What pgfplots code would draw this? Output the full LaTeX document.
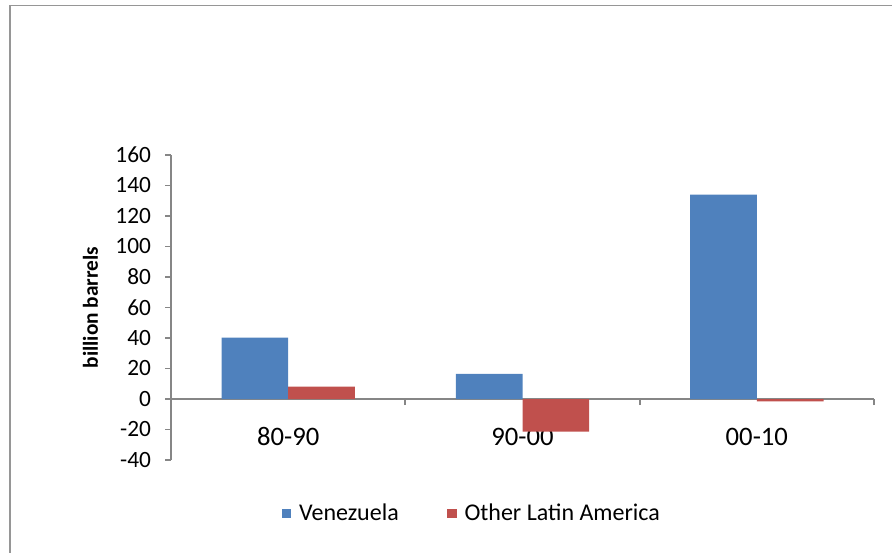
\documentclass[border=0pt]{standalone}
\usepackage{pgfplots}
\pgfplotsset{compat=1.18}
\usepackage{fontspec}
\setmainfont{Carlito}

\definecolor{venblue}{RGB}{79,129,189}
\definecolor{latred}{RGB}{192,80,77}
\definecolor{axgray}{RGB}{134,134,134}
\definecolor{framegray}{RGB}{150,150,150}

\begin{document}
\begin{tikzpicture}
  % page area and chart frame
  \path[use as bounding box] (0pt,0pt) rectangle (669pt,414.75pt);
  \begin{scope}
    \clip (0pt,0pt) rectangle (669pt,414.75pt);
    \draw[framegray, line width=1.4pt] (7.2pt,-20pt) rectangle (690pt,410.6pt);
  \end{scope}
  \begin{axis}[
    at={(128.25pt,69.75pt)}, anchor=south west,
    scale only axis,
    width=527.25pt, height=228.75pt,
    ybar=0pt, bar width=50pt,
    xmin=-0.5, xmax=2.5,
    ymin=-40, ymax=160,
    axis x line=middle,
    axis y line=left,
    axis line style={-, draw=axgray, line width=1.3pt},
    tick align=outside,
    major tick length=4.5pt,
    % tick marks between the periods
    xtick={-0.5,0.5,1.5,2.5},
    xticklabels={},
    x tick style={draw=axgray, line width=1.3pt},
    % period names centred under each pair of bars
    extra x ticks={0,1,2},
    extra x tick labels={80-90,90-00,00-10},
    extra x tick style={major tick length=0pt,
      xticklabel style={font=\fontsize{20}{24}\selectfont, yshift=-18pt}},
    ytick={-40,-20,0,20,40,60,80,100,120,140,160},
    yticklabels={-40,-20,0,20,40,60,80,100,120,140,160},
    y tick style={draw=axgray, line width=1.2pt},
    yticklabel style={font=\fontsize{17.5}{21}\selectfont, anchor=east, xshift=-7pt},
    /pgf/number format/assume math mode=true,
    ylabel={billion barrels},
    ylabel style={at={(axis description cs:-0.1145,0.5)}, anchor=center, rotate=0,
      font=\bfseries\fontsize{16}{19}\selectfont},
    legend columns=2,
    legend style={draw=none, fill=none,
      at={(axis description cs:0.152,-0.174)}, anchor=west,
      font=\fontsize{18}{22}\selectfont,
      /tikz/every odd column/.append style={column sep=4pt},
      /tikz/every even column/.append style={column sep=34.5pt}},
    legend cell align=left,
    clip=false,
  ]
    \addplot[fill=venblue, draw=none,
      legend image code/.code={\fill[venblue] (0pt,-3.4pt) rectangle (6.8pt,3.4pt);}]
      coordinates {(0,40.2) (1,16.4) (2,134)};
    \addplot[fill=latred, draw=none,
      legend image code/.code={\fill[latred] (0pt,-3.4pt) rectangle (6.8pt,3.4pt);}]
      coordinates {(0,8.1) (1,-21.4) (2,-1.5)};
    \legend{Venezuela, Other Latin America}
  \end{axis}
\end{tikzpicture}
\end{document}
